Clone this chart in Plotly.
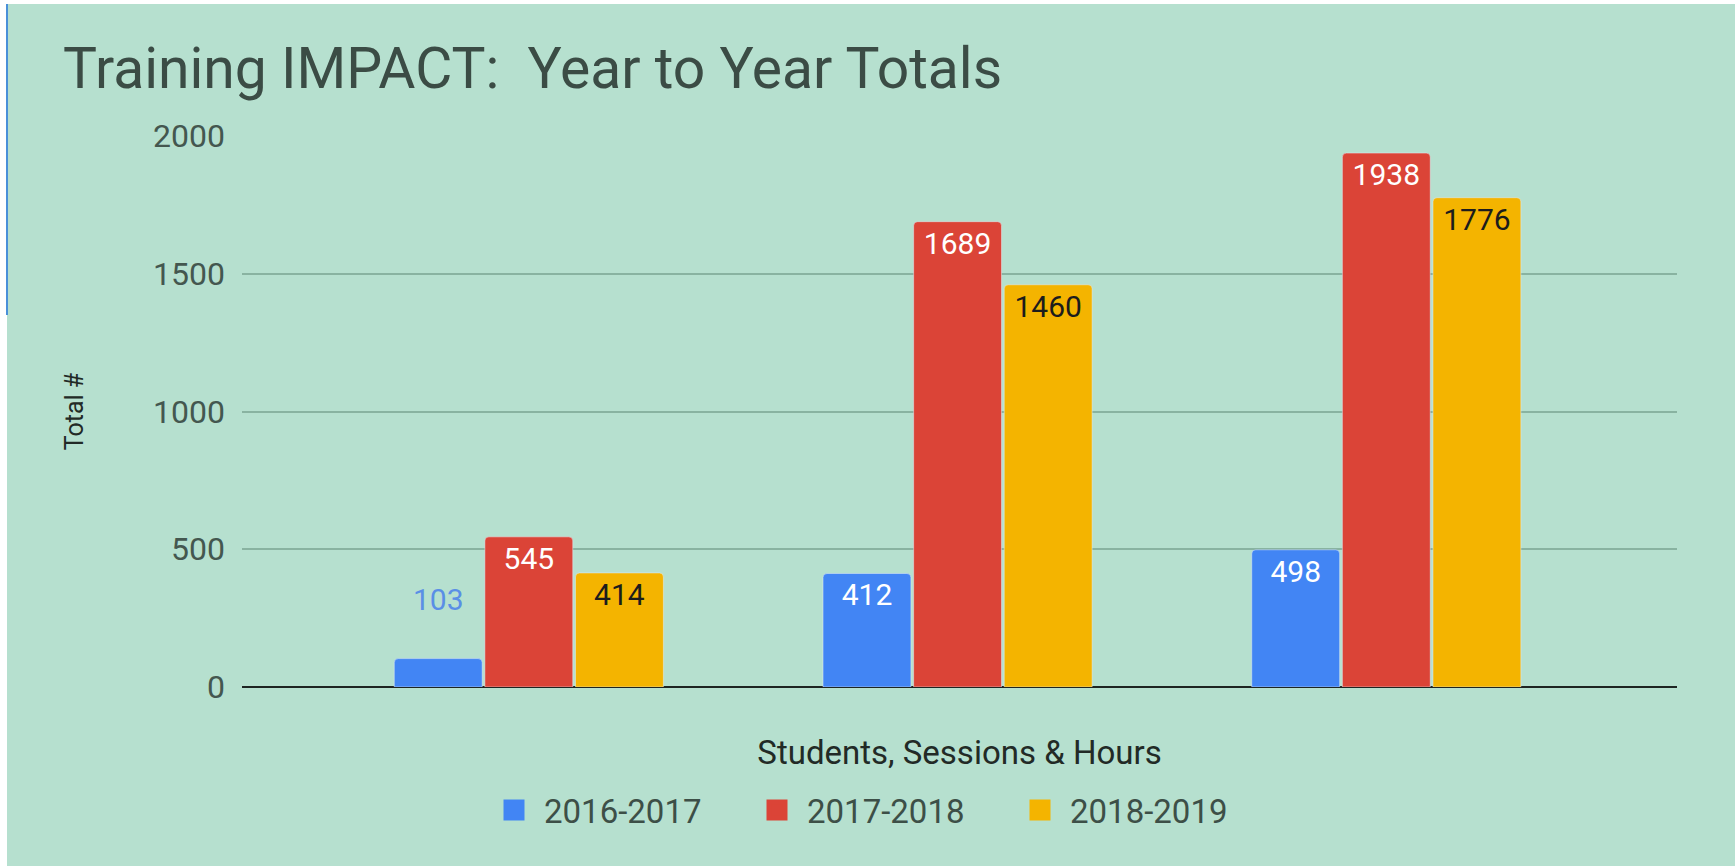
import plotly.graph_objects as go

categories = ["Students", "Sessions", "Hours"]
series_names = ["2016-2017", "2017-2018", "2018-2019"]
values_2016 = [103, 412, 498]
values_2017 = [545, 1689, 1938]
values_2018 = [414, 1460, 1776]
colors = ["#4285f4", "#db4437", "#f4b400"]
y_ticks = [0, 500, 1000, 1500, 2000]

BG = "#b6e0cf"
W, H = 1735, 866
L, R, T, B = 242, 58, 136, 179
pw, ph = W - L - R, H - T - B

def px_x(p):
    return (p - L) / pw

def px_y(p):
    return (H - B - p) / ph

LBL = 30
fig = go.Figure()
fig.add_trace(go.Bar(
    x=categories, y=values_2016, name=series_names[0],
    marker=dict(color=colors[0]), legendgroup="a", showlegend=False,
    texttemplate=["%{y}<br> ", "%{y}", "%{y}"],
    textposition=["outside", "inside", "inside"],
    textfont=dict(color=["#5a8fe6", "white", "white"], size=LBL, family="Roboto"),
))
fig.add_trace(go.Bar(
    x=categories, y=values_2017, name=series_names[1],
    marker=dict(color=colors[1]), legendgroup="b", showlegend=False,
    texttemplate="%{y}", textposition="inside",
    textfont=dict(color="white", size=LBL, family="Roboto"),
))
fig.add_trace(go.Bar(
    x=categories, y=values_2018, name=series_names[2],
    marker=dict(color=colors[2]), legendgroup="c", showlegend=False,
    texttemplate="%{y}", textposition="inside",
    textfont=dict(color="#1c1c1c", size=LBL, family="Roboto"),
))
fig.update_traces(insidetextanchor="end", textangle=0, constraintext="none", cliponaxis=False)

# legend-only entries (larger square swatches)
for name, col, grp in zip(series_names, colors, ["a", "b", "c"]):
    fig.add_trace(go.Scatter(
        x=[None], y=[None], mode="markers", name=name, legendgroup=grp,
        marker=dict(symbol="square", size=16, color=col, line=dict(color=col, width=5)),
        hoverinfo="skip",
    ))

fig.update_layout(
    width=W, height=H,
    margin=dict(l=L, r=R, t=T, b=B),
    paper_bgcolor=BG, plot_bgcolor=BG,
    barmode="group", bargap=0.366, bargroupgap=0.03, barcornerradius=4,
    font=dict(family="Roboto", color="#3d4f47"),
    title=dict(text="Training IMPACT:  Year to Year Totals",
               x=63 / W, xanchor="left", xref="container",
               y=1 - 68 / H, yanchor="middle", yref="container",
               font=dict(size=57, color="#3b4c45", family="Roboto")),
    xaxis=dict(range=[-0.669, 2.678], showticklabels=False, showgrid=False,
               ticks="", zeroline=False, showline=False,
               title=dict(text="Students, Sessions & Hours", standoff=53,
                          font=dict(size=33, color="#222a26"))),
    yaxis=dict(range=[0, 2000], tickvals=y_ticks, showgrid=True,
               gridcolor="#89b3a1", gridwidth=2,
               zeroline=True, zerolinecolor="#1e2522", zerolinewidth=2,
               ticks="", ticklabelstandoff=16,
               tickfont=dict(size=32, color="#44574f"),
               title=dict(text="Total #", standoff=62,
                          font=dict(size=25, color="#222a26"))),
    legend=dict(orientation="h", x=px_x(484), xanchor="left",
                y=px_y(810), yanchor="middle",
                itemwidth=50, entrywidth=198, entrywidthmode="pixels",
                font=dict(size=33, color="#3d4f47"), bgcolor="rgba(0,0,0,0)"),
    showlegend=True,
    shapes=[
        dict(type="rect", xref="paper", yref="paper",
             x0=px_x(0), x1=px_x(7), y0=px_y(H), y1=px_y(0),
             fillcolor="white", line=dict(width=0), layer="above"),
        dict(type="rect", xref="paper", yref="paper",
             x0=px_x(0), x1=px_x(W), y0=px_y(4), y1=px_y(0),
             fillcolor="white", line=dict(width=0), layer="above"),
        dict(type="line", xref="paper", yref="paper",
             x0=px_x(7), x1=px_x(7), y0=px_y(4), y1=px_y(315),
             line=dict(color="#4a90d9", width=2), layer="above"),
    ],
)

fig.write_html("out.html", config={"displayModeBar": False},
               post_script="document.body.style.margin='0';document.body.style.overflow='hidden';")
